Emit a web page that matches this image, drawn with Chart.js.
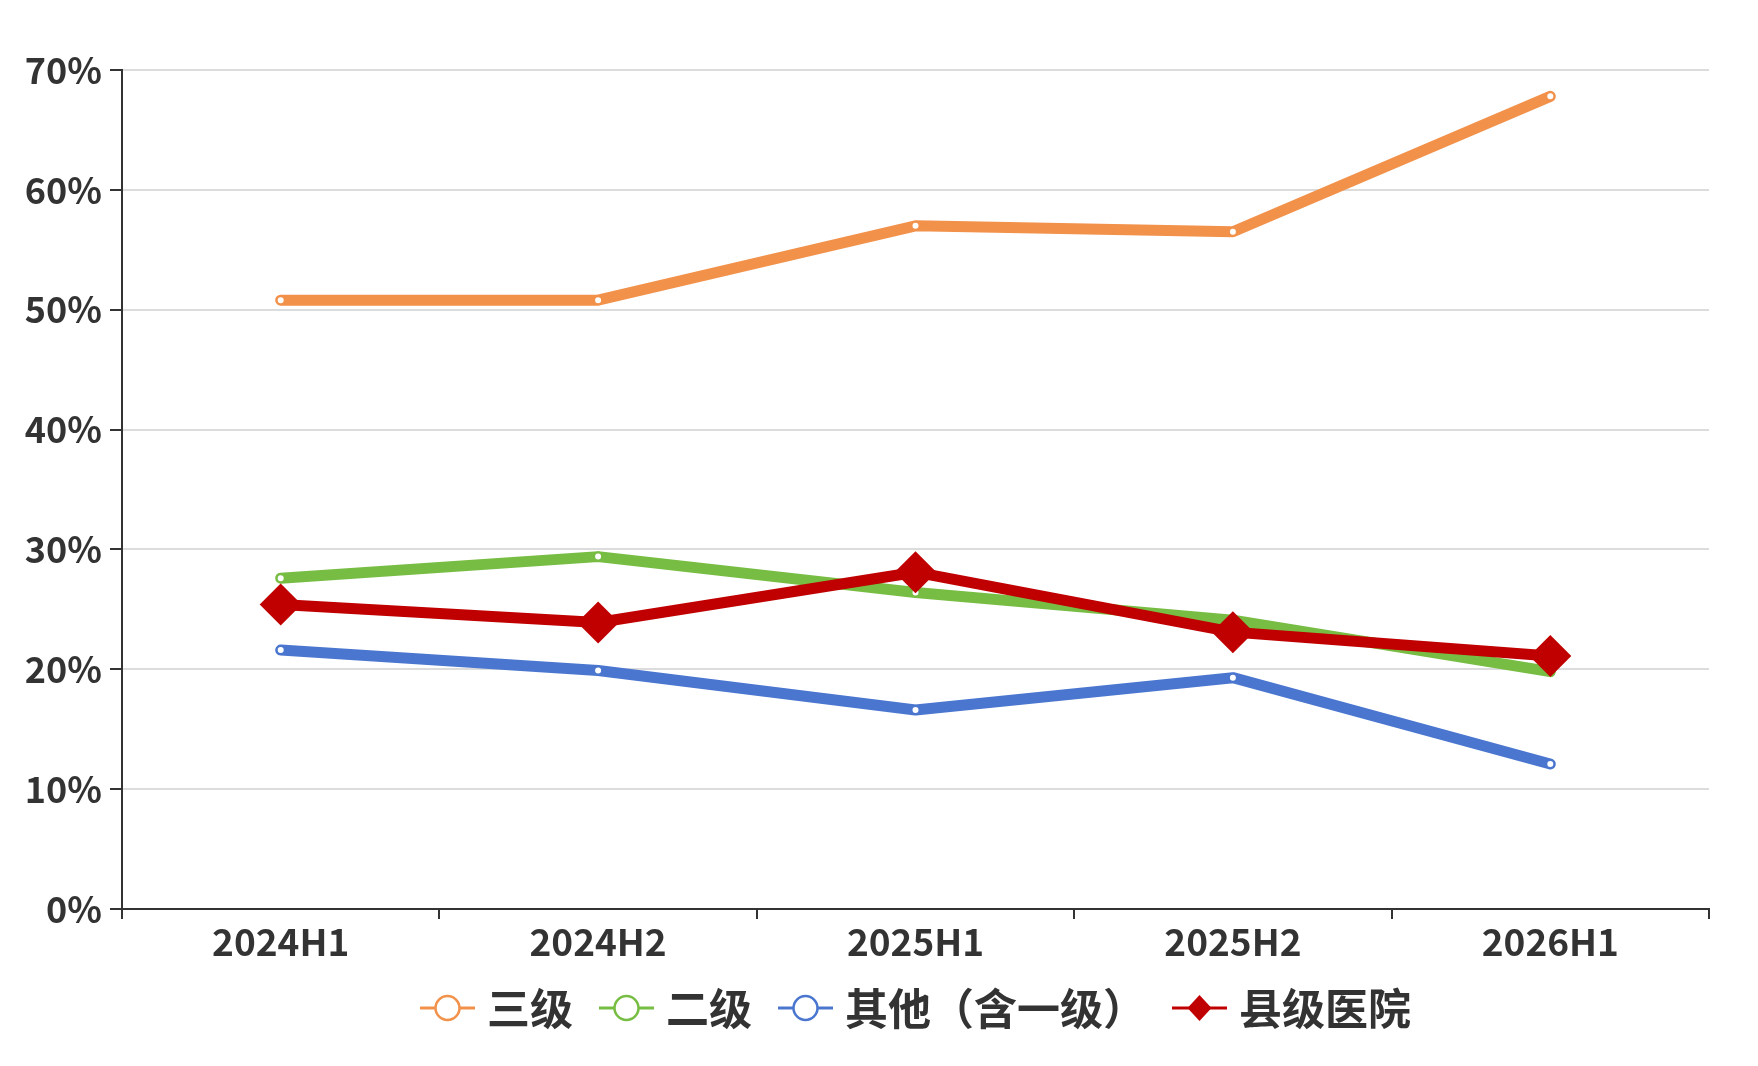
<!DOCTYPE html>
<html>
<head>
<meta charset="utf-8">
<script src="https://cdn.jsdelivr.net/npm/chart.js@4.4.1/dist/chart.umd.min.js"></script>
<style>
  html, body { margin: 0; padding: 0; background: #ffffff; }
  #wrap { width: 1758px; height: 1066px; position: relative; }
  canvas { display: block; }
</style>
</head>
<body>
<div id="wrap"><canvas id="c" width="1758" height="1066"></canvas></div>
<script>
// ---- data ----
const categories = ['2024H1', '2024H2', '2025H1', '2025H2', '2026H1'];
const seriesNames = ['三级', '二级', '其他（含一级）', '县级医院'];
const tertiary = [50.8, 50.8, 57.0, 56.5, 67.8];
const secondary = [27.6, 29.4, 26.4, 24.1, 19.8];
const others = [21.6, 19.9, 16.6, 19.3, 12.1];
const county = [25.4, 23.9, 28.1, 23.1, 21.1];
const yTicks = [0, 10, 20, 30, 40, 50, 60, 70];

const FONT = '"Noto Sans CJK SC", "Noto Sans", sans-serif';
const TEXT = '#333333';
const COLORS = ['#F2914A', '#77BD43', '#4A76CF', '#C00000'];

function lineDs(label, data, color, order) {
  return {
    label: label,
    data: data,
    borderColor: color,
    backgroundColor: color,
    borderWidth: 11,
    borderCapStyle: 'round',
    borderJoinStyle: 'round',
    tension: 0,
    pointStyle: 'circle',
    pointRadius: 4,
    pointHoverRadius: 4,
    pointBackgroundColor: '#ffffff',
    pointBorderColor: color,
    pointBorderWidth: 2,
    order: order,
    legendStyle: 'circle'
  };
}

const datasets = [
  lineDs(seriesNames[0], tertiary, COLORS[0], 1),
  lineDs(seriesNames[1], secondary, COLORS[1], 2),
  lineDs(seriesNames[2], others, COLORS[2], 3),
  Object.assign(lineDs(seriesNames[3], county, COLORS[3], 0), {
    pointStyle: 'rectRot',
    pointRadius: 21,
    pointHoverRadius: 21,
    pointBackgroundColor: COLORS[3],
    pointBorderWidth: 0,
    legendStyle: 'diamond'
  })
];

const legendPlugin = {
  id: 'customLegend',
  afterDraw(chart) {
    const ctx = chart.ctx;
    const area = chart.chartArea;
    const fontSize = 43;
    const iconW = 55, gapIconText = 12, gapItems = 26;
    ctx.save();
    ctx.font = 'bold ' + fontSize + 'px ' + FONT;
    const items = chart.data.datasets.map(ds => ({
      label: ds.label, color: ds.borderColor, style: ds.legendStyle,
      w: ctx.measureText(ds.label).width
    }));
    let total = 0;
    items.forEach((it, i) => { total += iconW + gapIconText + it.w + (i ? gapItems : 0); });
    let x = (area.left + area.right) / 2 - total / 2;
    const y = area.bottom + 99;
    items.forEach(it => {
      ctx.strokeStyle = it.color;
      ctx.lineWidth = 3;
      ctx.beginPath();
      ctx.moveTo(x, y);
      ctx.lineTo(x + iconW, y);
      ctx.stroke();
      const cx = x + iconW / 2;
      if (it.style === 'diamond') {
        ctx.fillStyle = it.color;
        ctx.beginPath();
        ctx.moveTo(cx, y - 13);
        ctx.lineTo(cx + 12, y);
        ctx.lineTo(cx, y + 13);
        ctx.lineTo(cx - 12, y);
        ctx.closePath();
        ctx.fill();
      } else {
        ctx.fillStyle = '#ffffff';
        ctx.lineWidth = 2.5;
        ctx.beginPath();
        ctx.arc(cx, y, 12, 0, Math.PI * 2);
        ctx.fill();
        ctx.stroke();
      }
      ctx.fillStyle = TEXT;
      ctx.textBaseline = 'middle';
      ctx.textAlign = 'left';
      ctx.fillText(it.label, x + iconW + gapIconText, y + 1);
      x += iconW + gapIconText + it.w + gapItems;
    });
    ctx.restore();
  }
};

new Chart(document.getElementById('c'), {
  type: 'line',
  data: { labels: categories, datasets: datasets },
  plugins: [legendPlugin],
  options: {
    responsive: false,
    animation: false,
    devicePixelRatio: 1,
    layout: { padding: { left: 0, right: 49, top: 70, bottom: 0 } },
    plugins: {
      legend: { display: false },
      tooltip: { enabled: false }
    },
    scales: {
      x: {
        type: 'category',
        offset: true,
        afterFit(scale) { scale.height = 157; },
        grid: {
          display: true,
          drawOnChartArea: false,
          drawTicks: true,
          tickLength: 10,
          color: TEXT,
          lineWidth: 2,
          offset: true
        },
        border: { display: true, color: TEXT, width: 2 },
        ticks: {
          color: TEXT,
          padding: 1,
          font: { family: FONT, size: 37, weight: 'bold' }
        }
      },
      y: {
        min: 0,
        max: 70,
        afterFit(scale) { scale.width = 122; },
        afterBuildTicks(scale) { scale.ticks = yTicks.map(v => ({ value: v })); },
        grid: {
          color: (c) => (c.tick && c.tick.value === 0 ? TEXT : '#dcdcdc'),
          tickColor: TEXT,
          lineWidth: 2,
          drawTicks: true,
          tickLength: 12
        },
        border: { display: true, color: TEXT, width: 2 },
        ticks: {
          color: TEXT,
          padding: 8,
          callback: (v) => v + '%',
          font: { family: FONT, size: 36, weight: 'bold' }
        }
      }
    }
  }
});
</script>
</body>
</html>
